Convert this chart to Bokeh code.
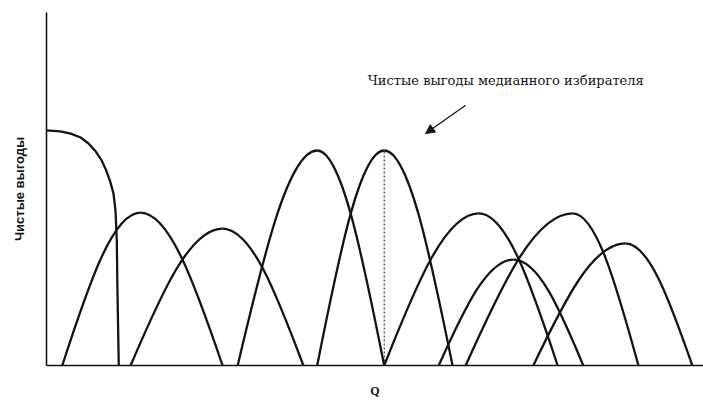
from bokeh.plotting import figure
from bokeh.models import Range1d, Label, Arrow, NormalHead, FixedTicker
from bokeh.embed import file_html
from bokeh.resources import INLINE

# Net-benefit arches of the individual voters (arbitrary units, Q on 0..100)
arch_start = [2.4, 12.8, 29.1, 41.2, 51.4, 59.7, 63.8, 74.1]
arch_peak_q = [14.3, 26.8, 41.2, 51.4, 65.8, 71.1, 80.1, 88.1]
arch_peak_v = [43.3, 38.8, 60.9, 60.9, 43.1, 30.0, 43.1, 34.6]
arch_end = [26.8, 39.1, 51.4, 61.8, 77.8, 81.7, 90.1, 98.3]

# Falling net-benefit curve of the first voter
falling_q = [0.0, 2.1, 3.7, 5.2, 6.4, 7.5, 8.4, 9.1, 9.7, 10.2, 10.5, 10.7, 10.8, 11.0]
falling_v = [66.6, 66.3, 65.7, 64.6, 62.9, 60.6, 58.1, 55.2, 52.1, 48.7, 43.9, 35.4, 21.2, 0.0]

# Median voter: ideal quantity and maximum net benefit
median_q = 51.4
median_v = 60.9

INK = "#141414"

p = figure(width=703, height=404, output_backend="svg", toolbar_location=None,
           x_range=Range1d(0, 100), y_range=Range1d(0, 100),
           min_border_left=46, min_border_right=0, min_border_top=12,
           min_border_bottom=39)
p.outline_line_color = None
p.xgrid.visible = False
p.ygrid.visible = False
p.background_fill_color = "white"
p.border_fill_color = "white"

for ax in (p.xaxis, p.yaxis):
    ax.ticker = FixedTicker(ticks=[])
    ax.major_tick_line_color = None
    ax.minor_tick_line_color = None
    ax.major_label_text_font_size = "0px"
    ax.axis_line_color = INK
    ax.axis_line_width = 1.6
    ax.axis_label_text_color = INK
    ax.axis_label_text_font_style = "bold"

p.yaxis.axis_label = "Чистые выгоды"
p.yaxis.axis_label_text_font = "Liberation Sans"
p.yaxis.axis_label_text_font_size = "13px"
p.yaxis.axis_label_standoff = 20

p.xaxis.axis_label = "Q"
p.xaxis.axis_label_text_font = "Liberation Serif"
p.xaxis.axis_label_text_font_size = "12px"
p.xaxis.axis_label_standoff = 18

# build bezier halves (sine-like arches) from the arch values
k0, kh = 0.35, 0.55
x0s, y0s, x1s, y1s, cx0, cy0, cx1, cy1 = [], [], [], [], [], [], [], []
for s, pq, pv, e in zip(arch_start, arch_peak_q, arch_peak_v, arch_end):
    L = pq - s
    R = e - pq
    # rising half
    x0s.append(s); y0s.append(0); x1s.append(pq); y1s.append(pv)
    cx0.append(s + k0 * L); cy0.append(kh * pv)
    cx1.append(pq - k0 * L); cy1.append(pv)
    # falling half
    x0s.append(pq); y0s.append(pv); x1s.append(e); y1s.append(0)
    cx0.append(pq + k0 * R); cy0.append(pv)
    cx1.append(e - k0 * R); cy1.append(kh * pv)

p.bezier(x0=x0s, y0=y0s, x1=x1s, y1=y1s, cx0=cx0, cy0=cy0, cx1=cx1, cy1=cy1,
         line_color=INK, line_width=2.3)

p.line(falling_q, falling_v, line_color=INK, line_width=2.3, line_join="round")

p.segment(x0=[median_q], y0=[0], x1=[median_q], y1=[median_v],
          line_color=INK, line_width=1, line_dash="2 2")

p.add_layout(Label(x=48.9, y=80.7, text="Чистые выгоды медианного избирателя",
                   text_font="DejaVu Serif", text_font_size="13px",
                   text_color=INK, text_align="left", text_baseline="alphabetic"))

p.add_layout(Arrow(end=NormalHead(size=9, fill_color=INK, line_color=INK),
                   x_start=63.8, y_start=73.7, x_end=57.7, y_end=65.7,
                   line_color=INK, line_width=1.3))

open("out.html", "w").write(file_html(p, INLINE))
